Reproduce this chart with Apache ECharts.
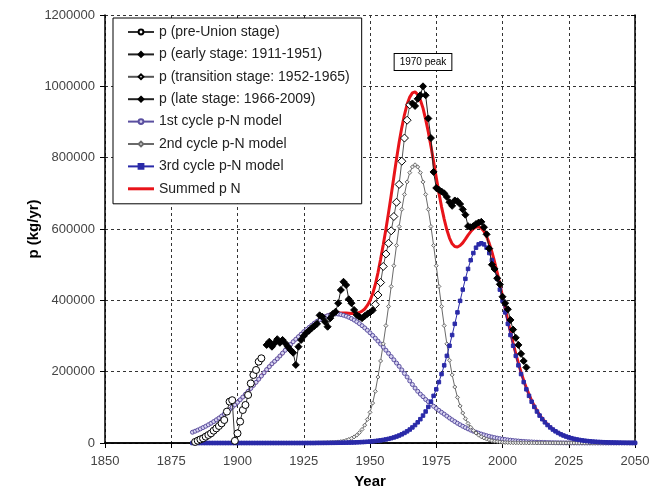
<!DOCTYPE html>
<html>
<head>
<meta charset="utf-8">
<script src="https://cdn.jsdelivr.net/npm/echarts@6/dist/echarts.min.js"></script>
<style>
  html, body { margin: 0; padding: 0; background: #fff; }
  #chart { width: 651px; height: 492px; }
</style>
</head>
<body>
<div id="chart"></div>
<script>
// observed p, one value per year
const preUnionStart = 1884
const preUnion = [3000, 6500, 10000, 13000, 17700, 22400, 27000, 34500, 41000, 47700,
  55000, 64500, 88000, 116000, 120000, 6000, 27000, 60000, 92500, 106600,
  134600, 167000, 190700, 204700, 228000, 237500]

const earlyStart = 1911
const early = [275000, 284000, 270000, 280000, 291000, 281000, 289000, 280000, 270000, 261000,
  253000, 219000, 270000, 289000, 300000, 309000, 315000, 322000, 328000, 334000,
  358000, 354000, 340000, 326000, 350000, 362000, 368000, 392000, 429000, 452000,
  443000, 403000, 392000, 373000, 359000, 354000, 350000, 356000, 362000, 366000, 372000]

const transStart = 1952
const transition = [388000, 415000, 450000, 495000, 530000, 560000, 595000, 635000, 675000, 725000,
  790000, 855000, 905000, 948000]

const lateStart = 1966
const late = [952000, 945000, 965000, 975000, 1000000, 975000, 910000, 855000, 760000, 715000,
  710000, 705000, 700000, 690000, 675000, 665000, 680000, 678000, 670000, 655000,
  640000, 608000, 605000, 608000, 614000, 618000, 620000, 605000, 585000, 545000,
  500000, 488000, 462000, 445000, 410000, 392000, 375000, 345000, 318000, 295000,
  275000, 250000, 230000, 212000]

// p-N model cycles, 1883..2050
const modelStart = 1883
const cycle1 = [
  30200, 33100, 36200, 39600, 43200, 47000, 51100, 55400, 60000, 64900,
  70000, 75500, 81200, 87200, 93400, 100000, 106800, 113900, 121200, 128800,
  136700, 144700, 153000, 161500, 170100, 178900, 187800, 196800, 205800, 214000,
  222000, 229000, 236000, 244000, 252000, 260000, 268000, 276000, 284000, 291000,
  298000, 305000, 312000, 318000, 324000, 330000, 336000, 341000, 346000, 350000,
  354000, 357000, 359500, 361000, 362000, 361500, 360000, 358200, 355700, 352600,
  349000, 344700, 340000, 334700, 329000, 322700, 316100, 309000, 301600, 293800,
  285800, 277500, 269000, 260200, 251300, 242400, 233300, 224100, 215000, 205000,
  195000, 185000, 174000, 164000, 154000, 145000, 137000, 130000, 122000, 116000,
  109000, 103000, 97000, 91500, 86000, 81000, 75500, 70000, 64900, 60000,
  55400, 51100, 47000, 43200, 39600, 36200, 33100, 30200, 27500, 25000,
  22700, 20500, 18600, 16800, 15100, 13600, 12200, 10900, 9800, 8700,
  7800, 6900, 6200, 5500, 4800, 4300, 3800, 3300, 2900, 2500,
  2200, 1900, 1700, 1500, 1300, 1100, 950, 800, 700, 600,
  500, 430, 370, 310, 260, 220, 190, 160, 130, 110,
  90, 80, 60, 50, 40, 35, 30, 25, 20, 15,
  12, 10, 8, 6, 5, 4, 3, 2]
const cycle2 = [
  0, 0, 0, 0, 0, 0, 0, 0, 0, 0,
  0, 0, 0, 0, 0, 0, 0, 0, 0, 0,
  0, 0, 0, 0, 0, 0, 0, 0, 0, 0,
  0, 0, 0, 0, 0, 0, 0, 0, 0, 0,
  0, 0, 0, 50, 80, 120, 180, 260, 380, 550,
  800, 1100, 1500, 2000, 2500, 3000, 4000, 5500, 7500, 10000,
  13000, 17000, 22000, 29000, 38000, 50000, 66000, 86000, 112000, 145000,
  185000, 230000, 278000, 329000, 383000, 439000, 497000, 554000, 607000, 655000,
  697000, 732000, 758000, 774000, 780000, 774000, 758000, 732000, 697000, 655000,
  607000, 554000, 497000, 439000, 383000, 329000, 278000, 232000, 191000, 157000,
  128000, 104000, 84000, 68000, 55000, 44000, 35000, 28000, 22000, 17500,
  14000, 11000, 8500, 6500, 5000, 4000, 3000, 2000, 1500, 1100,
  800, 600, 450, 330, 250, 180, 130, 100, 70, 50,
  40, 30, 20, 15, 10, 8, 6, 4, 3, 2,
  0, 0, 0, 0, 0, 0, 0, 0, 0, 0,
  0, 0, 0, 0, 0, 0, 0, 0, 0, 0,
  0, 0, 0, 0, 0, 0, 0, 0]
const cycle3 = [
  0, 0, 0, 0, 0, 0, 0, 0, 0, 0,
  0, 0, 0, 0, 0, 0, 0, 0, 0, 0,
  0, 0, 0, 0, 0, 0, 0, 0, 0, 0,
  0, 0, 0, 0, 0, 0, 0, 0, 0, 0,
  0, 0, 0, 0, 0, 0, 0, 180, 210, 250,
  300, 350, 410, 480, 550, 650, 750, 900, 1000, 1200,
  1400, 1600, 1900, 2200, 2600, 3000, 3500, 4000, 4700, 5500,
  6400, 7400, 8600, 10000, 11600, 13500, 15600, 18100, 21000, 24300,
  28300, 32700, 37800, 43600, 50300, 58000, 66800, 76900, 88300, 101200,
  115800, 132200, 150500, 170800, 193200, 217700, 244300, 272700, 302700, 334100,
  366200, 398500, 430100, 460300, 488100, 512500, 532600, 547600, 556900, 560000,
  556900, 547600, 532600, 512500, 488100, 460300, 430100, 398500, 366200, 334100,
  302700, 272700, 244300, 217700, 193200, 170800, 150500, 132200, 115800, 101200,
  88300, 76900, 66800, 58000, 50300, 43600, 37800, 32700, 28300, 24300,
  21000, 18100, 15600, 13500, 11600, 10000, 8600, 7400, 6400, 5500,
  4700, 4000, 3500, 3000, 2600, 2200, 1900, 1600, 1400, 1200,
  1000, 900, 750, 650, 550, 480, 410, 350]

const seriesNames = ['p (pre-Union stage)', 'p (early stage: 1911-1951)', 'p (transition stage: 1952-1965)',
  'p (late stage: 1966-2009)', '1st cycle p-N model', '2nd cycle p-N model', '3rd cycle p-N model', 'Summed p N']

function pairs(start, vals){
    return vals.map((v, i) => [start + i, v])
}
// summed model = 1st + 2nd + 3rd
let summed = cycle1.map((v, i) => v + cycle2[i] + cycle3[i])

let chart = echarts.init(document.getElementById('chart'))

const font = 'Arial, "Liberation Sans", sans-serif'
const gridLine = { show: true, lineStyle: { color: '#333', type: [3, 3], width: 1 } }

function dataSeries(name, start, vals, symbol, size, fill, lineColor){
    return {
        name: name,
        type: 'line',
        data: pairs(start, vals),
        symbol: symbol,
        symbolSize: size,
        itemStyle: { color: fill, borderColor: '#000', borderWidth: 1 },
        lineStyle: { color: lineColor, width: 1 },
        z: 5
    }
}
function modelSeries(name, vals, symbol, size, color, fill){
    return {
        name: name,
        type: 'line',
        data: pairs(modelStart, vals),
        symbol: symbol,
        symbolSize: size,
        itemStyle: { color: fill, borderColor: color, borderWidth: 1 },
        lineStyle: { color: color, width: 1 },
        z: 3
    }
}

let late_s = dataSeries(seriesNames[3], lateStart, late, 'diamond', 7, '#000', '#222')
late_s.markPoint = {
    symbol: 'rect',
    symbolSize: 0,
    data: [{ coord: [1970, 1068000] }],
    label: {
        show: true,
        formatter: '1970 peak',
        position: 'inside',
        fontFamily: font,
        fontSize: 10,
        color: '#000',
        backgroundColor: '#fff',
        borderColor: '#000',
        borderWidth: 1,
        padding: [3, 5]
    }
}

// legend entries; the summed line gets a plain bar icon
let legendData = seriesNames.map(n => ({ name: n }))
legendData[7] = { name: seriesNames[7], icon: 'path://M0,0 L26,0 L26,3 L0,3 Z', itemStyle: { color: '#e8141a' } }

option = {
    animation: false,
    backgroundColor: '#fff',
    textStyle: { fontFamily: font },
    grid: { left: 105, right: 16, top: 15, bottom: 49, outerBoundsMode: 'none' },
    legend: {
        orient: 'vertical',
        left: 113,
        top: 18,
        data: legendData,
        backgroundColor: '#fff',
        borderColor: '#000',
        borderWidth: 1,
        padding: [7, 12, 8, 14],
        itemWidth: 26,
        itemHeight: 6,
        itemGap: 8.4,
        textStyle: { fontFamily: font, fontSize: 14, color: '#222' },
        z: 10
    },
    xAxis: [{
        type: 'value',
        min: 1850,
        max: 2050,
        interval: 25,
        name: 'Year',
        nameLocation: 'middle',
        nameGap: 31,
        nameMoveOverlap: false,
        nameTextStyle: { fontFamily: font, fontSize: 15, fontWeight: 'bold', color: '#000' },
        axisLine: { lineStyle: { color: '#000', width: 1.5 } },
        axisTick: { length: 5, lineStyle: { color: '#000' } },
        axisLabel: { fontSize: 13, color: '#444', margin: 12, formatter: v => String(v) },
        splitLine: gridLine
    }, {
        type: 'value',
        position: 'top',
        min: 1850,
        max: 2050,
        interval: 25,
        axisLine: { lineStyle: { color: '#000', width: 1.5 } },
        axisTick: { inside: true, length: 4, lineStyle: { color: '#000' } },
        axisLabel: { show: false },
        splitLine: { show: false }
    }],
    yAxis: [{
        type: 'value',
        min: 0,
        max: 1200000,
        interval: 200000,
        name: 'p (kg/yr)',
        nameLocation: 'middle',
        nameGap: 64,
        nameMoveOverlap: false,
        nameTextStyle: { fontFamily: font, fontSize: 15, fontWeight: 'bold', color: '#000' },
        axisLine: { show: true, lineStyle: { color: '#000', width: 1.5 } },
        axisTick: { show: true, length: 5, lineStyle: { color: '#000' } },
        axisLabel: { fontSize: 13, color: '#444', margin: 10, formatter: v => String(v) },
        splitLine: gridLine
    }, {
        type: 'value',
        position: 'right',
        min: 0,
        max: 1200000,
        interval: 200000,
        axisLine: { show: true, lineStyle: { color: '#000', width: 1.5 } },
        axisTick: { show: true, inside: true, length: 4, lineStyle: { color: '#000' } },
        axisLabel: { show: false },
        splitLine: { show: false }
    }],
    series: [
        dataSeries(seriesNames[0], preUnionStart, preUnion, 'circle', 7, '#fff', '#333'),
        dataSeries(seriesNames[1], earlyStart, early, 'diamond', 7, '#000', '#222'),
        dataSeries(seriesNames[2], transStart, transition, 'diamond', 8, '#fff', '#555'),
        late_s,
        modelSeries(seriesNames[4], cycle1, 'circle', 4, '#5a4fa0', '#d8d4f0'),
        modelSeries(seriesNames[5], cycle2, 'diamond', 4, '#6a6a6a', '#eee'),
        modelSeries(seriesNames[6], cycle3, 'rect', 3.5, '#2a2aa8', '#2a2aa8'),
        {
            name: seriesNames[7],
            type: 'line',
            data: pairs(modelStart, summed),
            symbol: 'none',
            lineStyle: { color: '#e8141a', width: 3 },
            itemStyle: { color: '#e8141a' },
            z: 2
        }
    ]
};

chart.setOption(option)
</script>
</body>
</html>
